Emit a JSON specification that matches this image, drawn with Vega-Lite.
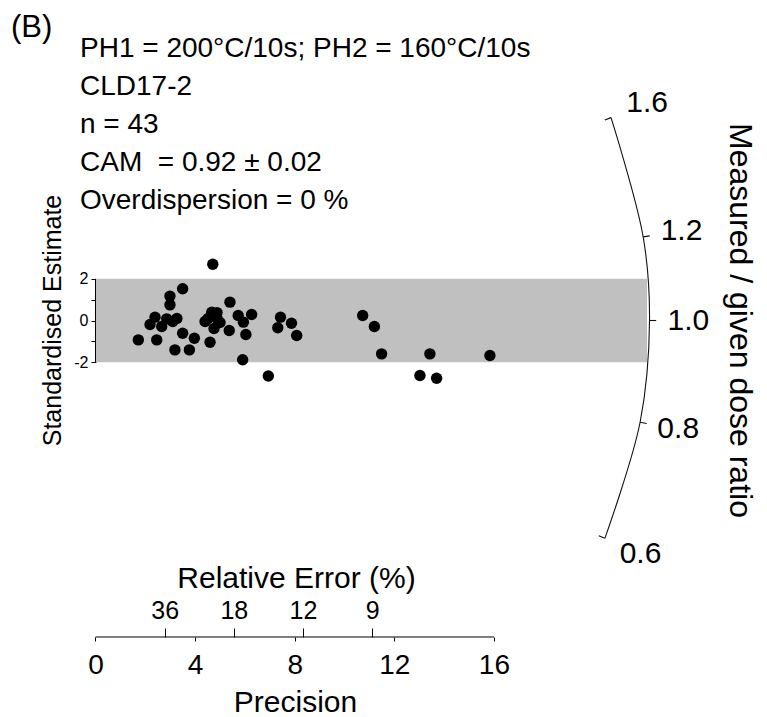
{
  "$schema": "https://vega.github.io/schema/vega-lite/v6.json",
  "width": 767,
  "height": 717,
  "autosize": "none",
  "padding": 0,
  "background": "white",
  "config": {
    "view": {"stroke": null},
    "axis": {"grid": false, "labelFont": "Liberation Sans", "titleFont": "Liberation Sans", "labelColor": "#000", "titleColor": "#000", "tickColor": "#000", "titleFontWeight": "normal", "labelFlush": false, "labelOverlap": false},
    "text": {"font": "Liberation Sans", "color": "#000"}
  },
  "resolve": {"axis": {"x": "independent", "y": "independent"}},
  "datasets": {
    "points": [
      {"precision": 1.72, "se": -0.93}, {"precision": 2.46, "se": -0.93}, {"precision": 2.39, "se": 0.16},
      {"precision": 2.66, "se": -0.29}, {"precision": 2.86, "se": 0.08}, {"precision": 3.10, "se": -0.05},
      {"precision": 2.99, "se": 1.17}, {"precision": 2.99, "se": 0.75}, {"precision": 3.50, "se": 1.52},
      {"precision": 3.19, "se": -1.41}, {"precision": 3.50, "se": -0.61}, {"precision": 3.77, "se": -1.41},
      {"precision": 3.97, "se": -0.85}, {"precision": 4.60, "se": -1.04}, {"precision": 4.71, "se": 2.70},
      {"precision": 4.40, "se": -0.05}, {"precision": 4.67, "se": 0.40}, {"precision": 4.88, "se": 0.10},
      {"precision": 4.76, "se": -0.38}, {"precision": 5.00, "se": -0.10}, {"precision": 5.40, "se": 0.88},
      {"precision": 5.37, "se": -0.48}, {"precision": 5.73, "se": 0.24}, {"precision": 5.94, "se": -0.08},
      {"precision": 6.04, "se": -0.67}, {"precision": 6.27, "se": 0.29}, {"precision": 5.91, "se": -1.88},
      {"precision": 6.94, "se": -2.66}, {"precision": 7.43, "se": 0.16}, {"precision": 7.32, "se": -0.35},
      {"precision": 7.87, "se": -0.13}, {"precision": 8.08, "se": -0.72}, {"precision": 10.73, "se": 0.24},
      {"precision": 11.20, "se": -0.29}, {"precision": 11.49, "se": -1.60}, {"precision": 13.43, "se": -1.60},
      {"precision": 15.84, "se": -1.68}, {"precision": 13.03, "se": -2.64}, {"precision": 13.70, "se": -2.77},
      {"precision": 4.52, "se": 0.10}, {"precision": 4.88, "se": 0.38}, {"precision": 2.19, "se": -0.19},
      {"precision": 3.27, "se": 0.10}
    ],
    "radial": [
      {"ratio": 0.6, "label": "0.6"},
      {"ratio": 0.8, "label": "0.8"},
      {"ratio": 1.0, "label": "1.0"},
      {"ratio": 1.2, "label": "1.2"},
      {"ratio": 1.6, "label": "1.6"}
    ],
    "one": [{"k": 1}]
  },
  "layer": [
    {
      "data": {"name": "one"},
      "mark": {"type": "rect", "color": "#c0c0c0"},
      "encoding": {
        "x": {"datum": 0, "type": "quantitative", "scale": {"domain": [-3.8353, 26.968], "nice": false, "zero": false}, "axis": null},
        "x2": {"datum": 22.15},
        "y": {"datum": -2, "type": "quantitative", "scale": {"domain": [-19.017, 15.372], "nice": false, "zero": false}, "axis": null},
        "y2": {"datum": 2}
      }
    },
    {
      "data": {"name": "one"},
      "mark": {"type": "rule", "color": "#000", "strokeWidth": 1},
      "encoding": {
        "x": {"datum": 0, "type": "quantitative", "scale": {"domain": [-3.8353, 26.968], "nice": false, "zero": false}, "axis": null},
        "y": {"datum": -2, "type": "quantitative", "scale": {"domain": [-19.017, 15.372], "nice": false, "zero": false}, "axis": null},
        "y2": {"datum": 2}
      }
    },
    {
      "data": {"name": "one"},
      "mark": {"type": "rule", "color": "#000", "strokeWidth": 1},
      "encoding": {
        "x": {"datum": 0, "type": "quantitative", "scale": {"domain": [-3.8353, 26.968], "nice": false, "zero": false}, "axis": null},
        "x2": {"datum": 16},
        "y": {"datum": -15.18, "type": "quantitative", "scale": {"domain": [-19.017, 15.372], "nice": false, "zero": false}, "axis": null}
      }
    },
    {
      "data": {"name": "points"},
      "mark": {"type": "circle", "size": 130, "color": "#000", "opacity": 1},
      "encoding": {
        "x": {
          "field": "precision", "type": "quantitative",
          "scale": {"domain": [-3.8353, 26.968], "nice": false, "zero": false},
          "axis": {"orient": "bottom", "offset": -80, "values": [0, 4, 8, 12, 16], "domain": false, "tickSize": 4, "labelFontSize": 28, "labelBaseline": "alphabetic", "labelPadding": 32, "title": "Precision", "titleFontSize": 30, "titleX": 295, "titleY": 74, "titleBaseline": "alphabetic"}
        },
        "y": {
          "field": "se", "type": "quantitative",
          "scale": {"domain": [-19.017, 15.372], "nice": false, "zero": false},
          "axis": {"orient": "left", "offset": -96, "values": [-2, -1, 0, 1, 2], "labelExpr": "abs(datum.value) == 1 ? '' : '' + datum.value", "domain": false, "tickSize": 5, "labelFontSize": 16, "labelPadding": 3, "title": "Standardised Estimate", "titleFontSize": 25, "titleX": -44, "titleY": 320, "titleBaseline": "middle", "titleAngle": -90}
        }
      }
    },
    {
      "data": {"name": "radial"},
      "transform": [
        {"calculate": "atan(log(datum.ratio) * 20.85 / 24.9)", "as": "th"},
        {"calculate": "22.25 * cos(datum.th)", "as": "ax"},
        {"calculate": "26.57 * sin(datum.th)", "as": "ay"}
      ],
      "mark": {"type": "line", "color": "#111", "strokeWidth": 1.1, "interpolate": "catmull-rom"},
      "encoding": {
        "x": {
          "field": "ax", "type": "quantitative",
          "scale": {"domain": [-3.8353, 26.968], "nice": false, "zero": false},
          "axis": {"orient": "top", "offset": -637, "values": [2.777778, 5.555556, 8.333333, 11.111111], "labelExpr": "format(100 / datum.value, '.0f')", "domain": false, "tickSize": 9, "labelFontSize": 25, "labelBaseline": "alphabetic", "labelPadding": 10, "title": "Relative Error (%)", "titleFontSize": 30, "titleX": 296, "titleY": -50, "titleBaseline": "alphabetic"}
        },
        "y": {"field": "ay", "type": "quantitative", "scale": {"domain": [-19.017, 15.372], "nice": false, "zero": false}, "axis": null},
        "order": {"field": "ratio", "type": "quantitative"}
      }
    },
    {
      "data": {"name": "radial"},
      "transform": [
        {"calculate": "atan(log(datum.ratio) * 20.85 / 24.9)", "as": "th"},
        {"calculate": "22.25 * cos(datum.th)", "as": "ax"},
        {"calculate": "26.57 * sin(datum.th)", "as": "ay"},
        {"calculate": "(datum.ratio == 1.6 || datum.ratio == 0.6) ? 0.988 : 1.012", "as": "f"},
        {"calculate": "datum.ax * datum.f", "as": "tx"},
        {"calculate": "datum.ay * datum.f", "as": "ty"}
      ],
      "mark": {"type": "rule", "color": "#111", "strokeWidth": 1.1},
      "encoding": {
        "x": {"field": "ax", "type": "quantitative", "scale": {"domain": [-3.8353, 26.968], "nice": false, "zero": false}, "axis": null},
        "x2": {"field": "tx"},
        "y": {"field": "ay", "type": "quantitative", "scale": {"domain": [-19.017, 15.372], "nice": false, "zero": false}, "axis": null},
        "y2": {"field": "ty"}
      }
    },
    {
      "data": {"name": "radial"},
      "transform": [
        {"calculate": "atan(log(datum.ratio) * 20.85 / 24.9)", "as": "th"},
        {"calculate": "22.25 * 1.07 * cos(datum.th)", "as": "lx"},
        {"calculate": "26.57 * 1.07 * sin(datum.th)", "as": "ly"}
      ],
      "mark": {"type": "text", "fontSize": 30, "align": "center", "baseline": "middle"},
      "encoding": {
        "x": {"field": "lx", "type": "quantitative", "scale": {"domain": [-3.8353, 26.968], "nice": false, "zero": false}, "axis": null},
        "y": {"field": "ly", "type": "quantitative", "scale": {"domain": [-19.017, 15.372], "nice": false, "zero": false}, "axis": null},
        "text": {"field": "label"}
      }
    },
    {
      "data": {"name": "one"},
      "mark": {"type": "text", "text": "Measured / given dose ratio", "fontSize": 32, "angle": 90, "align": "center", "baseline": "middle"},
      "encoding": {
        "x": {"datum": 25.884, "type": "quantitative", "scale": {"domain": [-3.8353, 26.968], "nice": false, "zero": false}, "axis": null},
        "y": {"datum": 0, "type": "quantitative", "scale": {"domain": [-19.017, 15.372], "nice": false, "zero": false}, "axis": null}
      }
    },
    {
      "data": {"name": "one"},
      "mark": {"type": "text", "text": ["PH1 = 200°C/10s; PH2 = 160°C/10s", "CLD17-2", "n = 43", "CAM\u00a0 = 0.92 ± 0.02", "Overdispersion = 0 %"], "fontSize": 28, "lineHeight": 38, "align": "left", "baseline": "alphabetic"},
      "encoding": {
        "x": {"datum": -0.6225, "type": "quantitative", "scale": {"domain": [-3.8353, 26.968], "nice": false, "zero": false}, "axis": null},
        "y": {"datum": 12.638, "type": "quantitative", "scale": {"domain": [-19.017, 15.372], "nice": false, "zero": false}, "axis": null}
      }
    },
    {
      "data": {"name": "one"},
      "mark": {"type": "text", "text": "(B)", "fontSize": 31, "align": "left", "baseline": "alphabetic"},
      "encoding": {
        "x": {"datum": -3.394, "type": "quantitative", "scale": {"domain": [-3.8353, 26.968], "nice": false, "zero": false}, "axis": null},
        "y": {"datum": 13.597, "type": "quantitative", "scale": {"domain": [-19.017, 15.372], "nice": false, "zero": false}, "axis": null}
      }
    }
  ]
}
